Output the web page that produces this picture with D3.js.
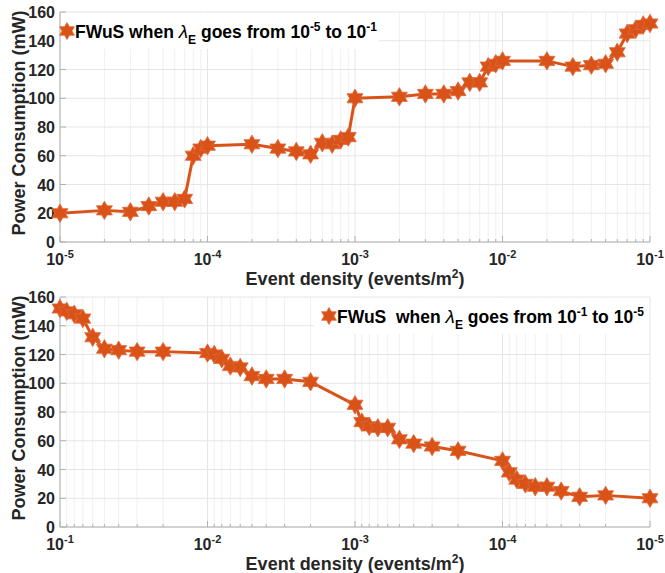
<!DOCTYPE html>
<html>
<head>
<meta charset="utf-8">
<script src="https://cdn.jsdelivr.net/npm/d3@7"></script>
<style>
  html, body { margin: 0; padding: 0; background: #fff; }
  svg { display: block; }
  text { font-family: "Liberation Sans", Arial, Helvetica, sans-serif; font-weight: bold; fill: #262626; }
</style>
</head>
<body>
<svg id="chart" width="665" height="573"></svg>
<script>
// ---------------- DATA ----------------
const densityUp = [
  1e-5, 2e-5, 3e-5, 4e-5, 5e-5, 6e-5, 7e-5, 8e-5, 9e-5,
  1e-4, 2e-4, 3e-4, 4e-4, 5e-4, 6e-4, 7e-4, 8e-4, 9e-4,
  1e-3, 2e-3, 3e-3, 4e-3, 5e-3, 6e-3, 7e-3, 8e-3, 9e-3,
  1e-2, 2e-2, 3e-2, 4e-2, 5e-2, 6e-2, 7e-2, 8e-2, 9e-2,
  1e-1
];
const powerUp = [
  20, 22, 21, 25, 28, 28, 30, 60, 65,
  67, 68, 65, 63, 61, 69, 68, 71, 73,
  100, 101, 103, 103, 105, 111, 111, 122, 124,
  126, 126, 122, 123, 124, 132, 145, 148, 151,
  152
];
const densityDown = [
  1e-1, 9e-2, 8e-2, 7e-2, 6e-2, 5e-2, 4e-2, 3e-2, 2e-2,
  1e-2, 9e-3, 8e-3, 7e-3, 6e-3, 5e-3, 4e-3, 3e-3, 2e-3,
  1e-3, 9e-4, 8e-4, 7e-4, 6e-4, 5e-4, 4e-4, 3e-4, 2e-4,
  1e-4, 9e-5, 8e-5, 7e-5, 6e-5, 5e-5, 4e-5, 3e-5, 2e-5,
  1e-5
];
const powerDown = [
  152, 150, 148, 145, 132, 124, 123, 122, 122,
  121, 120, 117, 112, 111, 105, 103, 103, 101,
  85, 73, 70, 69, 69, 61, 58, 56, 53,
  46, 38, 33, 30, 28, 28, 25, 21, 22,
  20
];
const xDecadeTicks = [1e-5, 1e-4, 1e-3, 1e-2, 1e-1];
const xTickExponents = ["-5", "-4", "-3", "-2", "-1"];
const yTicks = [0, 20, 40, 60, 80, 100, 120, 140, 160];
const legendUp = { pre: "FWuS when ", sub: "E", mid: " goes from 10", sup1: "-5", mid2: " to 10", sup2: "-1" };
const legendDown = { pre: "FWuS  when ", sub: "E", mid: " goes from 10", sup1: "-1", mid2: " to 10", sup2: "-5" };

// ---------------- STYLE ----------------
const COLOR = "#D95319";
const svg = d3.select("#chart");

function hexagramPath(R) {
  const r = R / Math.sqrt(3);
  const pts = [];
  for (let k = 0; k < 12; k++) {
    const ang = (-90 + k * 30) * Math.PI / 180;
    const rad = (k % 2 === 0) ? R : r;
    pts.push([rad * Math.cos(ang), rad * Math.sin(ang)]);
  }
  return "M" + pts.map(p => p[0].toFixed(2) + "," + p[1].toFixed(2)).join("L") + "Z";
}
const STAR = hexagramPath(9.2);

function drawPanel(opts) {
  const { top, bottom, left, right, domain, xs, ys, legend, legendBox, legendMarker, legendBaseline } = opts;
  const g = svg.append("g");
  const x = d3.scaleLog().domain(domain).range([left, right]);
  const y = d3.scaleLinear().domain([0, 160]).range([bottom, top]);

  const allTicks = x.ticks();
  const minor = allTicks.filter(t => !xDecadeTicks.some(d => Math.abs(d - t) / d < 1e-9));

  // grid
  g.append("g").selectAll("line").data(minor).join("line")
    .attr("x1", d => x(d)).attr("x2", d => x(d)).attr("y1", top).attr("y2", bottom)
    .attr("stroke", "#f0f0f0").attr("stroke-width", 1);
  g.append("g").selectAll("line").data(xDecadeTicks).join("line")
    .attr("x1", d => x(d)).attr("x2", d => x(d)).attr("y1", top).attr("y2", bottom)
    .attr("stroke", "#e6e6e6").attr("stroke-width", 1);
  g.append("g").selectAll("line").data(yTicks).join("line")
    .attr("x1", left).attr("x2", right).attr("y1", d => y(d)).attr("y2", d => y(d))
    .attr("stroke", "#e6e6e6").attr("stroke-width", 1);

  // axis lines
  g.append("line").attr("x1", left).attr("x2", left).attr("y1", top).attr("y2", bottom)
    .attr("stroke", "#b0b0b0").attr("stroke-width", 1);
  g.append("line").attr("x1", left).attr("x2", right).attr("y1", bottom).attr("y2", bottom)
    .attr("stroke", "#b0b0b0").attr("stroke-width", 1);

  // ticks (inward)
  g.append("g").selectAll("line").data(xDecadeTicks).join("line")
    .attr("x1", d => x(d)).attr("x2", d => x(d)).attr("y1", bottom).attr("y2", bottom - 6)
    .attr("stroke", "#b0b0b0");
  g.append("g").selectAll("line").data(minor).join("line")
    .attr("x1", d => x(d)).attr("x2", d => x(d)).attr("y1", bottom).attr("y2", bottom - 3)
    .attr("stroke", "#b0b0b0");
  g.append("g").selectAll("line").data(yTicks).join("line")
    .attr("x1", left).attr("x2", left + 6).attr("y1", d => y(d)).attr("y2", d => y(d))
    .attr("stroke", "#b0b0b0");

  // y tick labels
  g.append("g").selectAll("text").data(yTicks).join("text")
    .attr("x", left - 5).attr("y", d => y(d) + 6)
    .attr("text-anchor", "end").attr("font-size", 16)
    .text(d => d);

  // x tick labels 10^k
  const xl = g.append("g").selectAll("text").data(xDecadeTicks).join("text")
    .attr("x", d => x(d)).attr("y", bottom + 22.5)
    .attr("text-anchor", "middle").attr("font-size", 16);
  xl.append("tspan").text("10");
  xl.append("tspan").attr("font-size", 11).attr("dy", -7).text((d, i) => xTickExponents[i]);

  // axis titles
  const xt = g.append("text").attr("x", (left + right) / 2).attr("y", bottom + 42.5)
    .attr("text-anchor", "middle").attr("font-size", 18);
  xt.append("tspan").text("Event density (events/m");
  xt.append("tspan").attr("font-size", 12).attr("dy", -7).text("2");
  xt.append("tspan").attr("dy", 7).text(")");

  g.append("text")
    .attr("transform", `translate(25,${(top + bottom) / 2 - 4}) rotate(-90)`)
    .attr("text-anchor", "middle").attr("font-size", 18)
    .text("Power Consumption (mW)");

  // legend box (white background)
  g.append("rect").attr("x", legendBox[0]).attr("y", legendBox[1])
    .attr("width", legendBox[2]).attr("height", legendBox[3]).attr("fill", "#fff");

  // data line + markers
  const pts = xs.map((d, i) => [x(d), y(ys[i])]);
  g.append("path").attr("d", d3.line()(pts))
    .attr("fill", "none").attr("stroke", COLOR).attr("stroke-width", 3).attr("stroke-linejoin", "round");
  g.append("g").selectAll("path").data(pts).join("path")
    .attr("d", STAR).attr("transform", d => `translate(${d[0]},${d[1]})`)
    .attr("fill", COLOR).attr("stroke", "#e0683a").attr("stroke-width", 0.8);

  // legend
  g.append("path").attr("d", hexagramPath(8.5))
    .attr("transform", `translate(${legendMarker[0]},${legendMarker[1]})`)
    .attr("fill", COLOR).attr("stroke", "#e0683a").attr("stroke-width", 0.8);
  const lt = g.append("text").attr("x", legendMarker[0] + 8).attr("y", legendBaseline)
    .attr("font-size", 17.5).style("fill", "#000").attr("xml:space", "preserve");
  lt.append("tspan").text(legend.pre);
  lt.append("tspan").text("λ").attr("font-weight", "normal").attr("font-style", "italic").attr("font-size", 19);
  lt.append("tspan").attr("font-size", 12).attr("dy", 6).text(legend.sub);
  lt.append("tspan").attr("dy", -6).text(legend.mid);
  lt.append("tspan").attr("font-size", 12).attr("dy", -7).text(legend.sup1);
  lt.append("tspan").attr("dy", 7).text(legend.mid2);
  lt.append("tspan").attr("font-size", 12).attr("dy", -7).text(legend.sup2);
}

drawPanel({
  top: 12, bottom: 242, left: 60, right: 650,
  domain: [1e-5, 1e-1], xs: densityUp, ys: powerUp,
  legend: legendUp, legendBox: [61, 13, 318, 36], legendMarker: [67, 31], legendBaseline: 37.5
});
drawPanel({
  top: 297, bottom: 527, left: 60, right: 650,
  domain: [1e-1, 1e-5], xs: densityDown, ys: powerDown,
  legend: legendDown, legendBox: [314, 298, 335, 36], legendMarker: [329, 316], legendBaseline: 322.5
});
</script>
</body>
</html>
